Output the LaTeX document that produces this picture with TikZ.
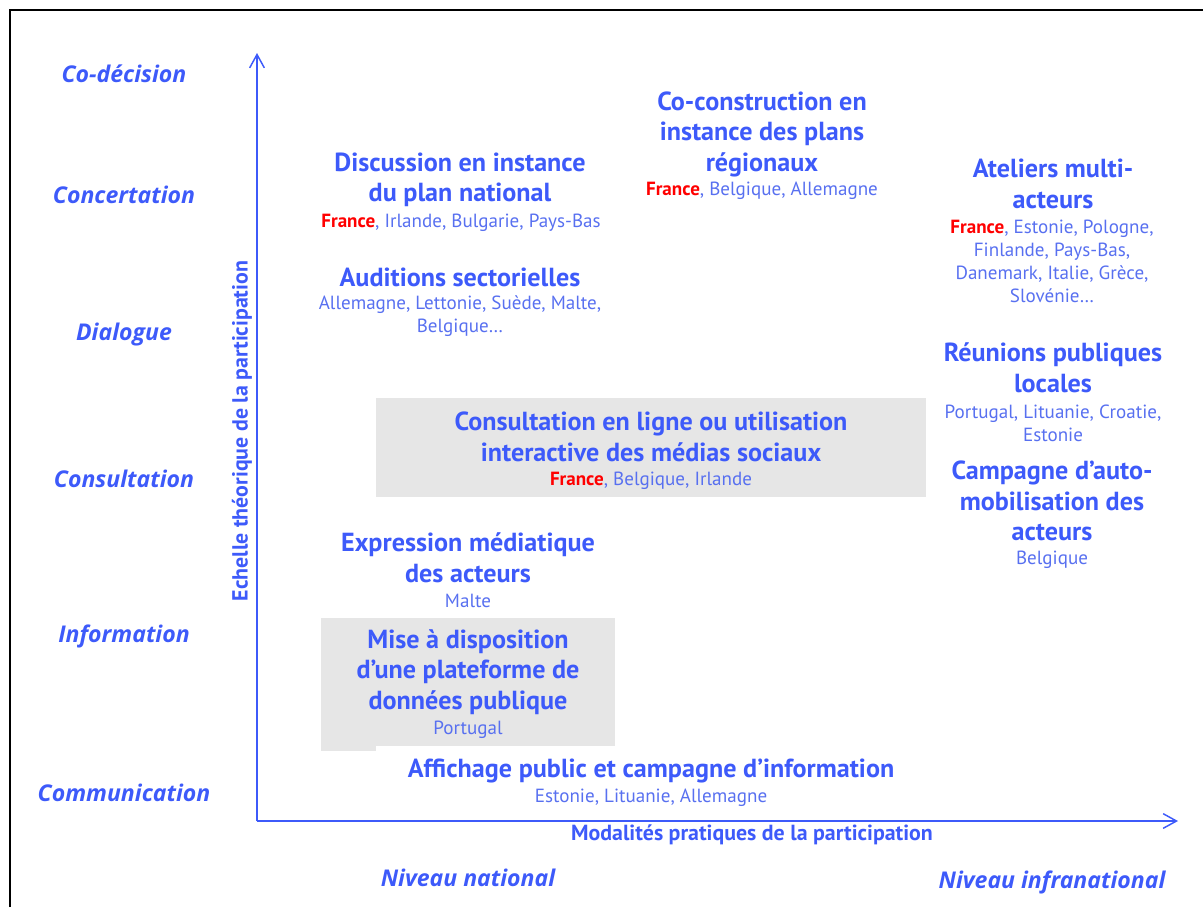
\documentclass[tikz,border=0pt]{standalone}
\usepackage{fontspec}
\setmainfont{PT Sans}
\newfontfamily\italfont{Open Sans}
\usetikzlibrary{arrows.meta}

\definecolor{bleu}{RGB}{61,90,250}
\definecolor{bleuclair}{RGB}{88,112,240}
\definecolor{rouge}{RGB}{255,0,0}
\definecolor{gris}{RGB}{230,230,230}

\tikzset{
  niveau/.style={text=bleu, inner sep=0pt, font=\italfont\bfseries\itshape\fontsize{17.3}{20}\selectfont},
  titre/.style={text=bleu, align=center, inner sep=0pt, font=\bfseries\fontsize{19.6}{22.9}\selectfont},
  pays/.style={text=bleuclair, align=center, inner sep=0pt, font=\fontsize{14.3}{17.25}\selectfont},
  axelab/.style={text=bleu, inner sep=0pt, font=\bfseries\fontsize{16.4}{18}\selectfont},
  axe/.style={draw=bleu, line width=1.1pt, -{Straight Barb[length=10pt,width=11pt]}},
  fond/.style={fill=gris, draw=none}
}
\newcommand{\fr}{\textcolor{rouge}{\textbf{France}}}

\begin{document}
\begin{tikzpicture}[x=0.75pt,y=-0.75pt]
\useasboundingbox (0,0) rectangle (1203,907);
% cadre
\draw[line width=2.2pt] (10,907) -- (10,10) -- (1203,10);

% fonds gris
\fill[fond] (321,618) rectangle (615,746);
\fill[fond] (321,746) rectangle (376,751);
\fill[fond] (376,398) rectangle (926,497);

% axes
\coordinate (origine) at (257,821);
\coordinate (haut) at (257,53);
\coordinate (droite) at (1178,821);
\draw[axe] (origine) -- (haut);
\draw[axe] (origine) -- (droite);
\node[axelab, rotate=90] (ordonnee) at (242,431) {Echelle théorique de la participation};
\node[axelab] (abscisse) at (752,835) {Modalités pratiques de la participation};

% echelle
\foreach \y/\nom [count=\i] in {74/Co-décision, 195/Concertation, 335/Dialogue, 479/Consultation, 636/Information, 793/Communication}
  \node[niveau] (niveau\i) at (124,\y) {\nom};
\node[niveau] (national) at (468,878) {Niveau national};
\node[niveau] (infra) at (1052,882) {Niveau infranational};

% modalites
\node[titre] (discussion) at (460,180) {Discussion en instance\\du plan national};
\node[pays] (discussionp) at (461,223) {\fr, Irlande, Bulgarie, Pays-Bas};

\node[titre] (auditions) at (460,277) {Auditions sectorielles};
\node[pays] (auditionsp) at (460,316) {Allemagne, Lettonie, Suède, Malte,\\Belgique…};

\node[titre] (coconstr) at (762,134) {Co-construction en\\instance des plans\\régionaux};
\node[pays] (coconstrp) at (762,191) {\fr, Belgique, Allemagne};

\node[titre] (ateliers) at (1053,184) {Ateliers multi-\\acteurs};
\node[pays] (ateliersp) at (1052,261) {\fr, Estonie, Pologne,\\Finlande, Pays-Bas,\\Danemark, Italie, Grèce,\\Slovénie…};

\node[titre] (reunions) at (1053,368) {Réunions publiques\\locales};
\node[pays] (reunionsp) at (1053,423) {Portugal, Lituanie, Croatie,\\Estonie};

\node[titre] (consult) at (651,437) {Consultation en ligne ou utilisation\\interactive des médias sociaux};
\node[pays] (consultp) at (651,481) {\fr, Belgique, Irlande};

\node[titre] (campagne) at (1052,501) {Campagne d’auto-\\mobilisation des\\acteurs};
\node[pays] (campagnep) at (1052,560) {Belgique};

\node[titre] (expression) at (468,558) {Expression médiatique\\des acteurs};
\node[pays] (expressionp) at (468,601) {Malte};

\node[titre] (plateforme) at (468,672) {Mise à disposition\\d’une plateforme de\\données publique};
\node[pays] (plateformep) at (468,730) {Portugal};

\node[titre] (affichage) at (651,771) {Affichage public et campagne d’information};
\node[pays] (affichagep) at (651,798) {Estonie, Lituanie, Allemagne};
\end{tikzpicture}
\end{document}
